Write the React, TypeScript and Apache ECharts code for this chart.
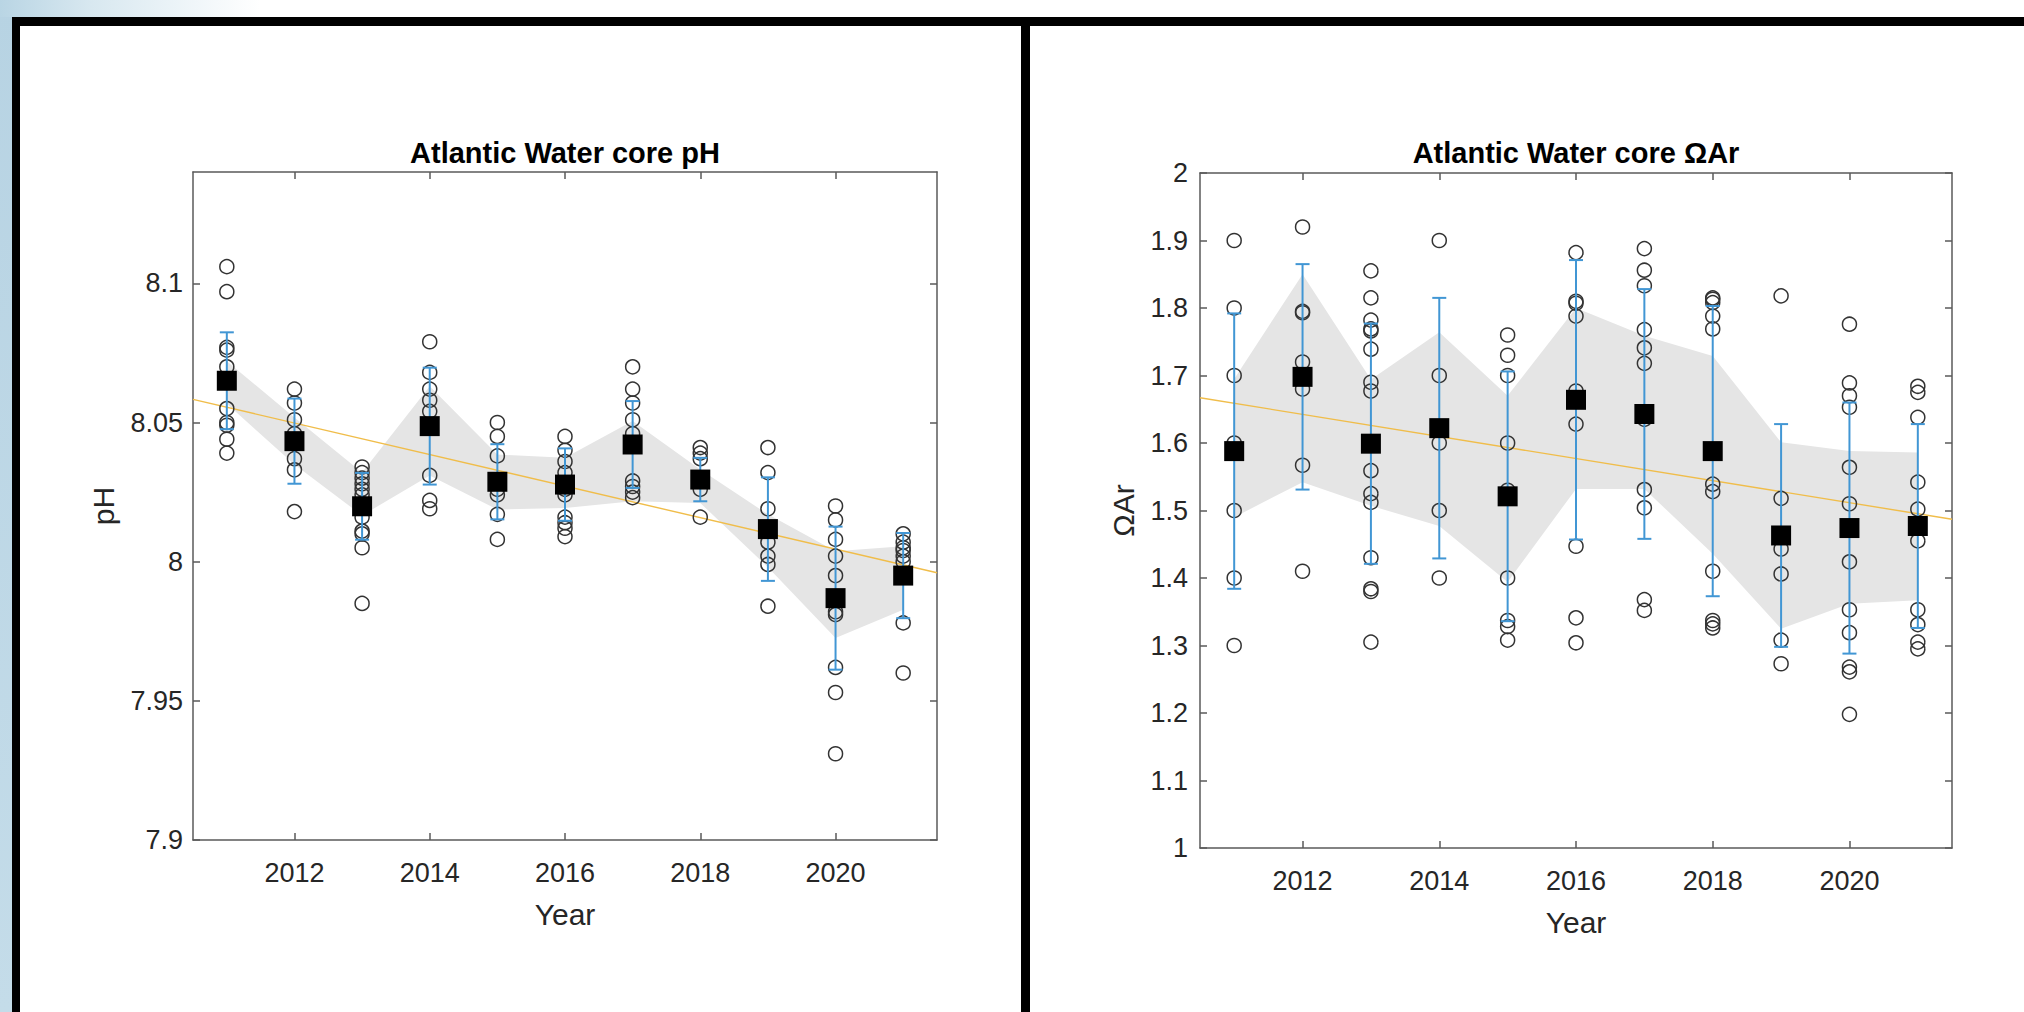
import React, { useEffect, useRef } from "react";
import * as echarts from "echarts";

// ---------- data ----------
const years = [2011, 2012, 2013, 2014, 2015, 2016, 2017, 2018, 2019, 2020, 2021];
const xTicks = [2012, 2014, 2016, 2018, 2020];
const xRange = [2010.5, 2021.5];

// pH panel
const phTicks = [7.9, 7.95, 8, 8.05, 8.1];
const phRange = [7.9, 8.14];
const phObs = [
  [8.106, 8.097, 8.077, 8.076, 8.07, 8.065, 8.055, 8.05, 8.049, 8.044, 8.039],
  [8.062, 8.057, 8.051, 8.046, 8.037, 8.033, 8.018],
  [8.034, 8.032, 8.03, 8.028, 8.026, 8.024, 8.021, 8.016, 8.011, 8.01, 8.005, 7.985],
  [8.079, 8.068, 8.062, 8.058, 8.054, 8.049, 8.031, 8.022, 8.019],
  [8.05, 8.045, 8.038, 8.029, 8.026, 8.024, 8.017, 8.008],
  [8.045, 8.04, 8.036, 8.032, 8.028, 8.026, 8.024, 8.016, 8.014, 8.012, 8.009],
  [8.07, 8.062, 8.057, 8.051, 8.046, 8.029, 8.027, 8.025, 8.023],
  [8.041, 8.039, 8.037, 8.03, 8.026, 8.016],
  [8.041, 8.032, 8.019, 8.012, 8.007, 8.002, 7.999, 7.984],
  [8.02, 8.015, 8.008, 8.002, 7.995, 7.982, 7.981, 7.962, 7.953, 7.931],
  [8.01, 8.007, 8.005, 8.004, 8.002, 8.0, 7.978, 7.96],
];
const phMean = [8.065, 8.0433, 8.0199, 8.0487, 8.0287, 8.0277, 8.0421, 8.0295, 8.0117, 7.9869, 7.995];
const phErr = [0.0174, 0.0153, 0.012, 0.021, 0.0135, 0.013, 0.0156, 0.0078, 0.0186, 0.0257, 0.0153];
const phBandUpper = [8.072, 8.0518, 8.032, 8.063, 8.0385, 8.0373, 8.0505, 8.0331, 8.017, 8.0037, 8.0055];
const phBandLower = [8.0567, 8.0349, 8.0166, 8.031, 8.0187, 8.0193, 8.0217, 8.0211, 7.998, 7.9726, 7.9827];
const phTrend = [8.0583, 7.996];

// Omega Ar panel
const arTicks = [1, 1.1, 1.2, 1.3, 1.4, 1.5, 1.6, 1.7, 1.8, 1.9, 2];
const arRange = [1, 2];
const arObs = [
  [1.9, 1.8, 1.7, 1.6, 1.5, 1.4, 1.3],
  [1.92, 1.795, 1.793, 1.72, 1.68, 1.567, 1.41],
  [1.855, 1.815, 1.782, 1.769, 1.766, 1.739, 1.69, 1.677, 1.559, 1.525, 1.512, 1.43, 1.384, 1.38, 1.305],
  [1.9, 1.7, 1.6, 1.5, 1.4],
  [1.76, 1.73, 1.7, 1.6, 1.53, 1.4, 1.337, 1.328, 1.308],
  [1.882, 1.81, 1.807, 1.788, 1.677, 1.628, 1.447, 1.341, 1.304],
  [1.888, 1.856, 1.833, 1.768, 1.741, 1.718, 1.635, 1.531, 1.504, 1.368, 1.352],
  [1.815, 1.813, 1.808, 1.788, 1.769, 1.539, 1.528, 1.41, 1.337, 1.332, 1.326],
  [1.818, 1.518, 1.443, 1.406, 1.308, 1.273],
  [1.776, 1.689, 1.67, 1.653, 1.564, 1.51, 1.424, 1.353, 1.319, 1.268, 1.261, 1.198],
  [1.684, 1.675, 1.638, 1.542, 1.502, 1.455, 1.353, 1.331, 1.305, 1.295],
];
const arMean = [1.588, 1.698, 1.599, 1.622, 1.521, 1.664, 1.643, 1.588, 1.463, 1.474, 1.477];
const arErr = [0.204, 0.167, 0.178, 0.193, 0.185, 0.207, 0.185, 0.215, 0.165, 0.186, 0.151];
const arBandUpper = [1.695, 1.85, 1.694, 1.764, 1.67, 1.8, 1.759, 1.729, 1.601, 1.588, 1.586];
const arBandLower = [1.49, 1.542, 1.507, 1.477, 1.394, 1.532, 1.532, 1.436, 1.325, 1.362, 1.367];
const arTrend = [1.667, 1.487];

// ---------- styling ----------
const FONT = '"Liberation Sans", Arial, Helvetica, sans-serif';
const AXIS_COLOR = "#5a5a5a";
const TEXT_COLOR = "#262626";
const BAND_COLOR = "#e5e5e5";
const ERR_COLOR = "#4196d4";
const TREND_COLOR = "#f0bd4a";
const CIRCLE_COLOR = "#333333";

const fmt = (v: number) => String(+(+v).toFixed(2));

function xAxes(gridIndex: number) {
  const common = {
    type: "value",
    gridIndex,
    min: xRange[0],
    max: xRange[1],
    splitLine: { show: false },
    axisLine: { show: true, onZero: false, lineStyle: { color: AXIS_COLOR, width: 1.5 } },
    axisTick: { show: true, inside: true, length: 7, customValues: xTicks, lineStyle: { color: AXIS_COLOR, width: 1.5 } },
  };
  return [
    {
      ...common,
      position: "bottom",
      axisLabel: {
        show: true,
        customValues: xTicks,
        margin: 19,
        fontSize: 27,
        fontFamily: FONT,
        color: TEXT_COLOR,
        formatter: (v: number) => String(v),
      },
      name: "Year",
      nameLocation: "middle",
      nameGap: 59,
      nameTextStyle: { fontSize: 30, fontFamily: FONT, color: TEXT_COLOR },
    },
    { ...common, position: "top", axisLabel: { show: false } },
  ];
}

function yAxes(gridIndex: number, range: number[], ticks: number[], name: string, margin: number, nameGap: number) {
  const common = {
    type: "value",
    gridIndex,
    min: range[0],
    max: range[1],
    splitLine: { show: false },
    axisLine: { show: true, onZero: false, lineStyle: { color: AXIS_COLOR, width: 1.5 } },
    axisTick: { show: true, inside: true, length: 7, customValues: ticks, lineStyle: { color: AXIS_COLOR, width: 1.5 } },
  };
  return [
    {
      ...common,
      position: "left",
      axisLabel: {
        show: true,
        customValues: ticks,
        margin,
        fontSize: 27,
        fontFamily: FONT,
        color: TEXT_COLOR,
        formatter: (v: number) => fmt(v),
      },
      name,
      nameLocation: "middle",
      nameGap,
      nameTextStyle: { fontSize: 30, fontFamily: FONT, color: TEXT_COLOR },
    },
    { ...common, position: "right", axisLabel: { show: false } },
  ];
}

function panelSeries(
  axisIdx: number,
  obs: number[][],
  mean: number[],
  err: number[],
  up: number[],
  lo: number[],
  trend: number[]
) {
  const idx = { xAxisIndex: axisIdx * 2, yAxisIndex: axisIdx * 2 };
  return [
    {
      type: "custom",
      ...idx,
      z: 1,
      silent: true,
      data: years.map((y, i) => [y, up[i], lo[i]]),
      encode: { x: 0, y: [1, 2] },
      renderItem: (params: any, api: any) => {
        if (params.dataIndex !== 0) return null;
        const pts: number[][] = [];
        for (let i = 0; i < years.length; i++) pts.push(api.coord([years[i], up[i]]));
        for (let i = years.length - 1; i >= 0; i--) pts.push(api.coord([years[i], lo[i]]));
        return { type: "polygon", shape: { points: pts }, style: { fill: BAND_COLOR, stroke: null } };
      },
    },
    {
      type: "line",
      ...idx,
      z: 2,
      silent: true,
      showSymbol: false,
      symbol: "none",
      data: [
        [xRange[0], trend[0]],
        [xRange[1], trend[1]],
      ],
      lineStyle: { color: TREND_COLOR, width: 1.4, opacity: 1 },
    },
    {
      type: "scatter",
      ...idx,
      z: 3,
      silent: true,
      symbol: "circle",
      symbolSize: 14,
      data: obs.flatMap((vals, i) => vals.map((v) => [years[i], v])),
      itemStyle: { color: "rgba(0,0,0,0)", borderColor: CIRCLE_COLOR, borderWidth: 1.5, opacity: 1 },
    },
    {
      type: "custom",
      ...idx,
      z: 4,
      silent: true,
      data: years.map((y, i) => [y, mean[i] - err[i], mean[i] + err[i]]),
      encode: { x: 0, y: [1, 2] },
      renderItem: (params: any, api: any) => {
        const x = api.value(0);
        const p1 = api.coord([x, api.value(2)]);
        const p2 = api.coord([x, api.value(1)]);
        const w = 7;
        const st = { stroke: ERR_COLOR, lineWidth: 2 };
        return {
          type: "group",
          children: [
            { type: "line", shape: { x1: p1[0], y1: p1[1], x2: p2[0], y2: p2[1] }, style: st },
            { type: "line", shape: { x1: p1[0] - w, y1: p1[1], x2: p1[0] + w, y2: p1[1] }, style: st },
            { type: "line", shape: { x1: p2[0] - w, y1: p2[1], x2: p2[0] + w, y2: p2[1] }, style: st },
          ],
        };
      },
    },
    {
      type: "scatter",
      ...idx,
      z: 5,
      silent: true,
      symbol: "rect",
      symbolSize: 20,
      data: years.map((y, i) => [y, mean[i]]),
      itemStyle: { color: "#000000", opacity: 1 },
    },
  ];
}

export default function App() {
  const ref = useRef<HTMLDivElement>(null);
  useEffect(() => {
    if (!ref.current) return;
    const chart = echarts.init(ref.current, undefined, { renderer: "svg", width: 2024, height: 1012 });
    const titleStyle = { fontSize: 29, fontWeight: "bold", fontFamily: FONT, color: "#000000" };
    const option: any = {
      animation: false,
      backgroundColor: "#ffffff",
      title: [
        { text: "Atlantic Water core pH", left: 565, top: 153, textAlign: "center", textVerticalAlign: "middle", padding: 0, textStyle: titleStyle },
        { text: "Atlantic Water core ΩAr", left: 1576, top: 153, textAlign: "center", textVerticalAlign: "middle", padding: 0, textStyle: titleStyle },
      ],
      grid: [
        { left: 193, top: 172, width: 744, height: 668 },
        { left: 1200, top: 173, width: 752, height: 675 },
      ],
      xAxis: [...xAxes(0), ...xAxes(1)],
      yAxis: [
        ...yAxes(0, phRange, phTicks, "pH", 10, 75),
        ...yAxes(1, arRange, arTicks, "ΩAr", 12, 62),
      ],
      series: [
        ...panelSeries(0, phObs, phMean, phErr, phBandUpper, phBandLower, phTrend),
        ...panelSeries(1, arObs, arMean, arErr, arBandUpper, arBandLower, arTrend),
      ],
      graphic: [
        {
          type: "rect",
          silent: true,
          shape: { x: 0, y: 0, width: 12, height: 1012 },
          style: {
            fill: {
              type: "linear", x: 0, y: 0, x2: 0, y2: 1,
              colorStops: [
                { offset: 0, color: "#b7d3e3" },
                { offset: 1, color: "#c4dce9" },
              ],
            },
          },
        },
        {
          type: "rect",
          silent: true,
          shape: { x: 0, y: 0, width: 260, height: 17 },
          style: {
            fill: {
              type: "linear", x: 0, y: 0, x2: 1, y2: 0,
              colorStops: [
                { offset: 0, color: "#b9d5e4" },
                { offset: 0.35, color: "#d8e8f0" },
                { offset: 1, color: "#ffffff" },
              ],
            },
          },
        },
        { type: "rect", silent: true, shape: { x: 12, y: 17, width: 2012, height: 9 }, style: { fill: "#000000" } },
        { type: "rect", silent: true, shape: { x: 12, y: 17, width: 8, height: 995 }, style: { fill: "#000000" } },
        { type: "rect", silent: true, shape: { x: 1021, y: 17, width: 9, height: 995 }, style: { fill: "#000000" } },
      ],
    };
    chart.setOption(option);
    return () => chart.dispose();
  }, []);
  return (
    <div
      ref={ref}
      style={{ position: "fixed", left: 0, top: 0, width: 2024, height: 1012, background: "#ffffff" }}
    />
  );
}
